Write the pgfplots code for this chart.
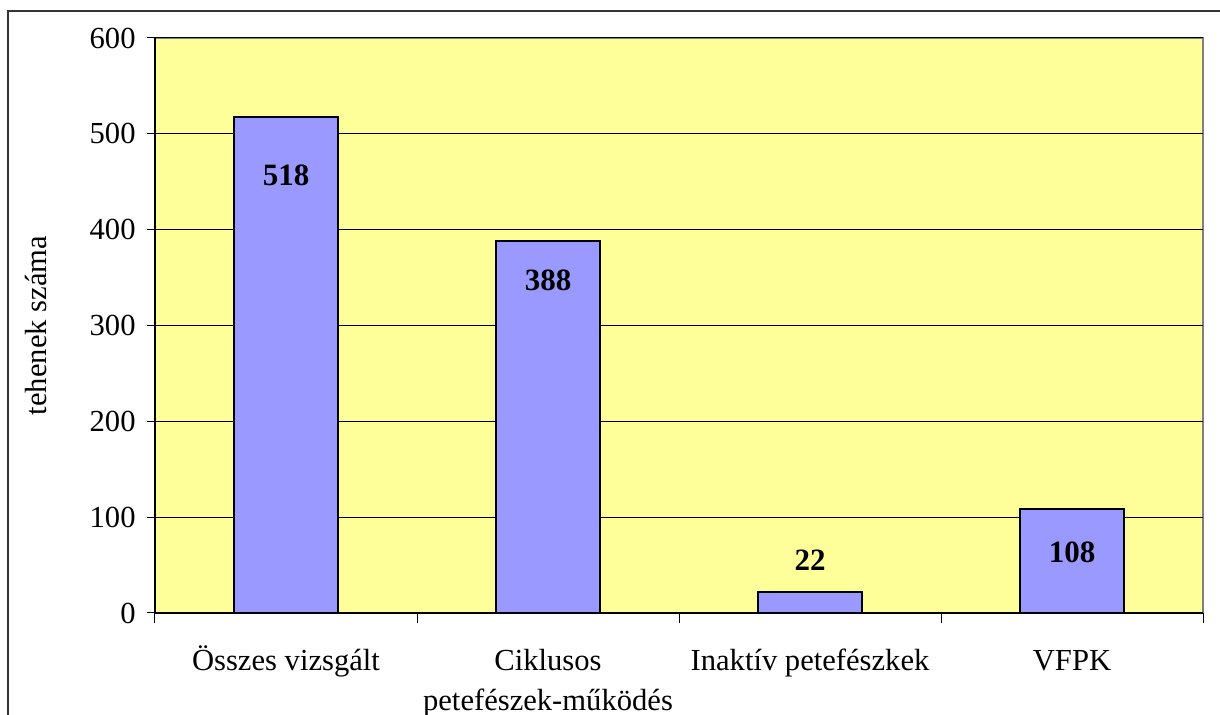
\documentclass[border=0pt]{standalone}
\usepackage{pgfplots}
\pgfplotsset{compat=1.18}
\usepackage{fontspec}
\setmainfont{Liberation Serif}
\definecolor{plotbg}{HTML}{FFFF99}
\definecolor{barfill}{HTML}{9999FF}
\begin{document}
\fontsize{15}{20}\selectfont
\begin{tikzpicture}
\useasboundingbox (0,0) rectangle (610pt,357.5pt);
\draw[line width=1pt, black!80] (4pt,352pt) rectangle (620pt,-10pt);
\begin{axis}[
  at={(77.5pt,51pt)}, anchor=south west,
  scale only axis,
  width=524pt, height=287.5pt,
  xmin=-0.5, xmax=3.5, ymin=0, ymax=600,
  axis background/.style={fill=plotbg, draw=gray, line width=1pt},
  axis x line*=bottom, axis y line*=left,
  axis line style={black, line width=0.6pt, -},
  ytick={0,100,...,600},
  ymajorgrids, grid style={black, line width=0.5pt},
  tick align=outside,
  major tick length=4pt, minor tick length=5pt,
  tick style={black, line width=0.5pt},
  xtick={0,1,2,3},
  xticklabels={Összes vizsgált, \vphantom{Ö}Ciklusos\\\raisebox{0pt}[\height][0pt]{petefészek-működés}, \vphantom{Ö}Inaktív petefészkek, \vphantom{Ö}VFPK},
  major x tick style={draw=none},
  minor xtick={-0.5,0.5,1.5,2.5,3.5},
  xticklabel style={align=center, inner ysep=1pt, yshift=-11pt, font=\fontsize{15.3}{20}\selectfont},
  yticklabel style={font=\fontsize{15.3}{18}\selectfont, xshift=-0.5pt},
  /pgf/number format/assume math mode=true,
  ylabel={tehenek száma},
  ylabel style={at={(rel axis cs:-0.1135,0.5)}, anchor=center, font=\fontsize{15.3}{18}\selectfont},
  clip=false,
]
\addplot[ybar, bar width=0.4, fill=barfill, draw=black, line width=1pt] coordinates {(0,518) (1,388) (2,22) (3,108)};
\node[font=\bfseries\fontsize{15.5}{18}\selectfont] at (axis cs:0,457) {518};
\node[font=\bfseries\fontsize{15.5}{18}\selectfont] at (axis cs:1,347.5) {388};
\node[font=\bfseries\fontsize{15.5}{18}\selectfont] at (axis cs:2,55.3) {22};
\node[font=\bfseries\fontsize{15.5}{18}\selectfont] at (axis cs:3,63.7) {108};
\end{axis}
\end{tikzpicture}
\end{document}
